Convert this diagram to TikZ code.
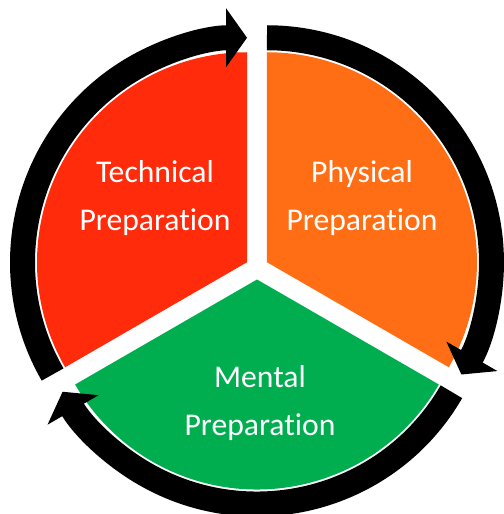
\documentclass[tikz,border=0pt]{standalone}
\usepackage{fontspec}
\setmainfont{Carlito}[Ligatures=NoCommon]
\usetikzlibrary{arrows.meta}
\definecolor{techred}{HTML}{FF2B0A}
\definecolor{physorange}{HTML}{FF6E14}
\definecolor{mentgreen}{HTML}{00AE50}
\tikzset{
  sectortext/.style={text=white, align=center, font=\fontsize{18}{27}\selectfont},
  cyclearrow/.style={line width=0.5cm, -{Triangle[length=0.42cm,width=1.16cm]}}
}

\begin{document}
\begin{tikzpicture}
            \useasboundingbox (-5.14,-4.92) rectangle (4.94,5.36);

            \fill[techred] (150:0.23) -- ++(210:4.2) arc (210:90:4.2) -- cycle;
            \fill[physorange] (30:0.23) -- ++(90:4.2) arc (90:-30:4.2) -- cycle;
            \fill[mentgreen] (270:0.23) -- ++(-30:4.2) arc (-30:-150:4.2) -- cycle;

            \draw[cyclearrow] (150:0.23) ++(210:4.49) arc (210:90:4.49);
            \draw[cyclearrow] (30:0.23) ++(90:4.49) arc (90:-30:4.49);
            \draw[cyclearrow] (270:0.23) ++(-30:4.49) arc (-30:-150:4.49);

            \node[sectortext] (tech) at (-2.04,1.4) {Technical\\Preparation};
            \node[sectortext] (phys) at (2.1,1.4) {Physical\\Preparation};
            \node[sectortext] (ment) at (0.06,-2.7) {Mental\\Preparation};
        \end{tikzpicture}
\end{document}
